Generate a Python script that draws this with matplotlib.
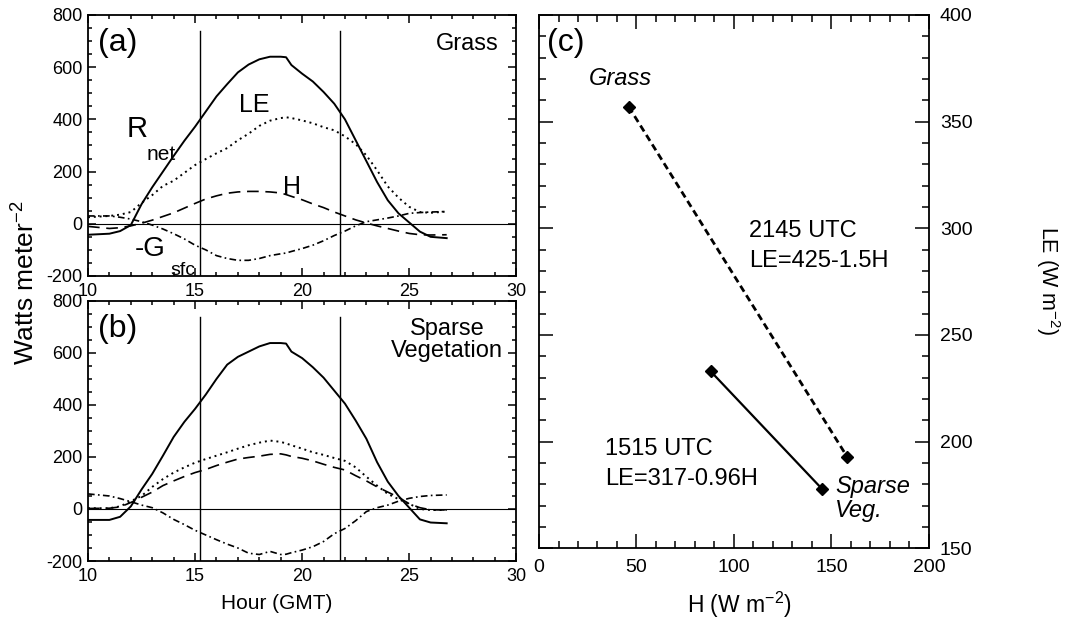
import matplotlib
matplotlib.use("Agg")
import matplotlib.pyplot as plt
from matplotlib.ticker import MultipleLocator

# hour (GMT) grid shared by the diurnal curves of panels (a) and (b)
hours = [10, 11, 11.5, 12, 12.5, 13, 13.5, 14, 14.5, 15, 15.5, 16, 16.5, 17, 17.5,
         18, 18.5, 19, 19.25, 19.5, 20, 20.5, 21, 21.5, 22, 22.5, 23, 23.5, 24,
         24.5, 25, 25.5, 26, 26.75]

# (a) grass site, W m-2
rnet_grass = [-42, -38, -28, -5, 75, 140, 200, 260, 318, 372, 430, 488, 535, 580, 610,
              630, 640, 640, 638, 608, 575, 545, 505, 460, 400, 320, 240, 160, 90,
              40, 5, -30, -50, -55]
le_grass = [25, 30, 35, 45, 80, 110, 145, 165, 195, 225, 248, 270, 290, 320, 345,
            375, 395, 405, 408, 405, 396, 385, 370, 358, 335, 305, 262, 205, 143,
            100, 65, 45, 42, 47]
h_grass = [-10, -18, -15, -8, 2, 14, 28, 42, 60, 78, 95, 107, 117, 122, 124,
           124, 122, 118, 112, 105, 92, 76, 62, 45, 30, 15, 3, -8, -18,
           -28, -37, -42, -43, -42]
g_grass = [30, 30, 25, 18, 8, -5, -20, -38, -58, -82, -100, -122, -133, -140, -140,
           -133, -122, -115, -112, -106, -95, -82, -65, -45, -28, -8, 8, 15, 22,
           30, 40, 43, 45, 47]

# (b) sparse vegetation site, W m-2
rnet_sparse = [-42, -42, -30, 10, 75, 135, 205, 277, 335, 385, 440, 500, 555, 585, 605,
               625, 638, 638, 636, 605, 580, 545, 505, 455, 405, 340, 270, 180, 105,
               50, 5, -40, -52, -55]
le_sparse = [3, 3, 10, 30, 50, 85, 115, 140, 160, 178, 192, 205, 218, 232, 245,
             255, 263, 258, 252, 245, 232, 218, 208, 196, 185, 160, 124, 90, 58,
             38, 20, 0, -4, -4]
h_sparse = [2, 3, 8, 25, 45, 65, 90, 108, 125, 140, 152, 167, 180, 192, 198,
            203, 210, 212, 208, 202, 195, 185, 172, 160, 150, 128, 108, 85, 65,
            45, 20, 5, -3, -4]
g_sparse = [58, 50, 40, 28, 15, 5, -15, -40, -60, -82, -100, -118, -135, -150, -170,
            -175, -163, -175, -174, -168, -158, -145, -125, -95, -75, -45, -10, 5, 15,
            30, 41, 48, 52, 54]

# observation times marked by vertical lines (1515 and 2145 UTC)
obs_hours = [15.25, 21.75]

# (c) H vs LE at the two sites (grass, sparse veg.)
h_2145 = [46, 158]
le_2145 = [357, 193]
h_1515 = [88, 145]
le_1515 = [233, 178]

plt.rcParams['font.family'] = ['Liberation Sans', 'DejaVu Sans']
plt.rcParams['mathtext.default'] = 'regular'
plt.rcParams['axes.unicode_minus'] = False

fig = plt.figure(figsize=(10.68, 6.23), dpi=100)
ax_a = fig.add_axes([0.0824, 0.557, 0.401, 0.419])
ax_b = fig.add_axes([0.0824, 0.0995, 0.401, 0.4175])
ax_c = fig.add_axes([0.5047, 0.120, 0.365, 0.856])


def style_time_axes(ax):
    ax.set_xlim(10, 30)
    ax.set_ylim(-200, 800)
    ax.xaxis.set_major_locator(MultipleLocator(5))
    ax.xaxis.set_minor_locator(MultipleLocator(1))
    ax.yaxis.set_major_locator(MultipleLocator(200))
    ax.yaxis.set_minor_locator(MultipleLocator(50))
    ax.tick_params(which='both', direction='in', top=True, right=True,
                   labelsize=13, width=1.1)
    ax.tick_params(which='major', length=6)
    ax.tick_params(which='minor', length=3)
    ax.tick_params(axis='x', pad=5)
    ax.tick_params(axis='y', pad=4)
    for s in ax.spines.values():
        s.set_linewidth(1.3)
    ax.axhline(0, color='black', lw=0.8)
    for t in obs_hours:
        ax.plot([t, t], [-200, 740], color='black', lw=1.0)


def draw_fluxes(ax, rnet, le, h, g):
    ax.plot(hours, rnet, color='black', lw=1.4)
    ax.plot(hours, le, color='black', lw=1.4, linestyle=(0, (1, 2)))
    ax.plot(hours, h, color='black', lw=1.2, linestyle=(0, (7, 4)))
    ax.plot(hours, g, color='black', lw=1.2, linestyle=(0, (4, 2, 1, 2)))


style_time_axes(ax_a)
draw_fluxes(ax_a, rnet_grass, le_grass, h_grass, g_grass)
ax_a.text(0.023, 0.95, '(a)', transform=ax_a.transAxes, fontsize=23, va='top')
ax_a.text(0.958, 0.93, 'Grass', transform=ax_a.transAxes, fontsize=17,
          ha='right', va='top')
ax_a.text(11.8, 334, 'R', fontsize=21)
ax_a.text(12.74, 245, 'net', fontsize=15)
ax_a.text(17.07, 430, 'LE', fontsize=18)
ax_a.text(19.1, 115, 'H', fontsize=18)
ax_a.text(12.2, -125, '-G', fontsize=20)
ax_a.text(13.83, -195, 'sfc', fontsize=14)

style_time_axes(ax_b)
draw_fluxes(ax_b, rnet_sparse, le_sparse, h_sparse, g_sparse)
ax_b.text(0.023, 0.95, '(b)', transform=ax_b.transAxes, fontsize=23, va='top')
ax_b.text(0.839, 0.935, 'Sparse\nVegetation', transform=ax_b.transAxes,
          fontsize=17, ha='center', va='top', linespacing=1.0)

# (c)
ax_c.set_xlim(0, 200)
ax_c.set_ylim(150, 400)
ax_c.xaxis.set_major_locator(MultipleLocator(50))
ax_c.xaxis.set_minor_locator(MultipleLocator(10))
ax_c.yaxis.set_major_locator(MultipleLocator(50))
ax_c.yaxis.set_minor_locator(MultipleLocator(10))
ax_c.tick_params(which='both', direction='in', top=True, right=True, left=True,
                 labelleft=False, labelright=True, labelsize=14, width=1.1)
ax_c.tick_params(which='major', length=10, pad=8)
ax_c.tick_params(which='minor', length=5)
for s in ax_c.spines.values():
    s.set_linewidth(1.3)

ax_c.plot(h_2145, le_2145, color='black', lw=2, linestyle=(0, (2.5, 1.5)),
          marker='D', ms=6)
ax_c.plot(h_1515, le_1515, color='black', lw=1.6, marker='D', ms=6)

ax_c.text(0.02, 0.976, '(c)', transform=ax_c.transAxes, fontsize=23, va='top')
ax_c.text(25.6, 367, 'Grass', fontsize=17, style='italic')
ax_c.text(107.8, 295.7, '2145 UTC', fontsize=17)
ax_c.text(107.8, 282, 'LE=425-1.5H', fontsize=17)
ax_c.text(33.8, 193.6, '1515 UTC', fontsize=17)
ax_c.text(33.8, 179.5, 'LE=317-0.96H', fontsize=17)
ax_c.text(151.8, 176, 'Sparse', fontsize=17, style='italic')
ax_c.text(151.8, 164.5, 'Veg.', fontsize=17, style='italic')

fig.text(0.024, 0.546, 'Watts meter$^{-2}$', rotation=90, ha='center',
         va='center', fontsize=19)
fig.text(0.259, 0.032, 'Hour (GMT)', ha='center', va='center', fontsize=15)
fig.text(0.692, 0.029, 'H (W m$^{-2}$)', ha='center', va='center', fontsize=16.5)
fig.text(0.981, 0.549, 'LE (W m$^{-2}$)', rotation=270, ha='center',
         va='center', fontsize=15.5)

fig.savefig('out.png', dpi=100)
